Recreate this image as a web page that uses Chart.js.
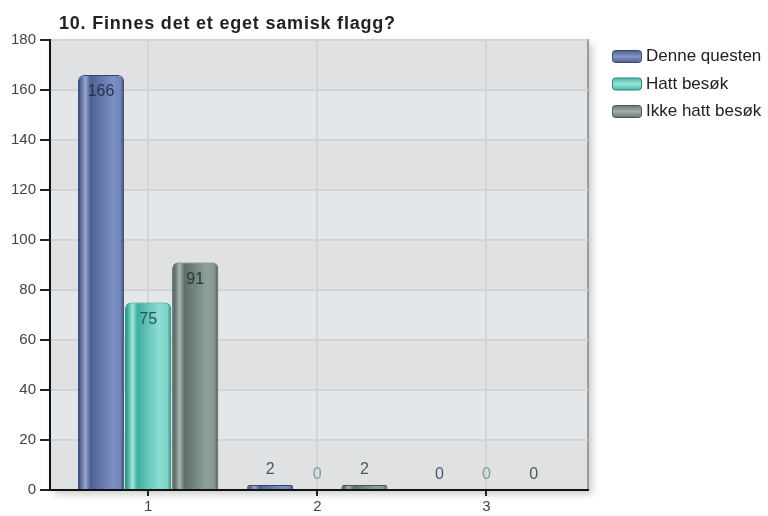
<!DOCTYPE html>
<html>
<head>
<meta charset="utf-8">
<script src="https://cdn.jsdelivr.net/npm/chart.js@4.4.1/dist/chart.umd.min.js"></script>
<style>
  html, body { margin: 0; padding: 0; background: #fff; }
  canvas { display: block; }
</style>
</head>
<body>
<canvas id="chart" width="768" height="516"></canvas>
<script>
const TITLE = '10. Finnes det et eget samisk flagg?';
const CATEGORIES = ['1', '2', '3'];
const SERIES_NAMES = ['Denne questen', 'Hatt besøk', 'Ikke hatt besøk'];
const DENNE_QUESTEN = [166, 2, 0];
const HATT_BESOK = [75, 0, 0];
const IKKE_HATT_BESOK = [91, 2, 0];
const Y_MIN = 0;
const Y_MAX = 180;
const Y_STEP = 20;

const FONT = '"Liberation Sans", Arial, Helvetica, sans-serif';

// cylinder look: dark edge, light stripe near the left, brighter towards the right
const STYLES = [
  {
    border: '#34466f',
    stops: ['#34466f', '#56689a', '#9ba6c8', '#4e6196', '#7c8fc2', '#7184b8', '#34466f'],
    swatch: ['#4a5c8f', '#8494c2', '#4a5c8f'],
    labelIn: '#27324c', labelOut: '#4b5573',
  },
  {
    border: '#23897c',
    stops: ['#23897c', '#3cae9f', '#a3e7dc', '#3eb0a1', '#8fded3', '#7dd2c6', '#23897c'],
    swatch: ['#3fb3a4', '#9de3d8', '#3fb3a4'],
    labelIn: '#2a5550', labelOut: '#7fa19c',
  },
  {
    border: '#475955',
    stops: ['#475955', '#61736f', '#a9b5b2', '#5c6e6a', '#8fa19d', '#84958f', '#475955'],
    swatch: ['#5f716d', '#a2b0ad', '#5f716d'],
    labelIn: '#2e3836', labelOut: '#4f5b58',
  },
];
const STOP_POS = [0, 0.06, 0.16, 0.27, 0.75, 0.92, 1];

const seriesValues = [DENNE_QUESTEN, HATT_BESOK, IKKE_HATT_BESOK];

const datasets = seriesValues.map((vals, i) => ({
  label: SERIES_NAMES[i],
  data: vals.map((v, j) => ({ x: Number(CATEGORIES[j]), y: v })),
  backgroundColor: STYLES[i].stops[4],
  borderColor: STYLES[i].border,
  borderWidth: 1,
  borderSkipped: 'bottom',
  borderRadius: { topLeft: 6, topRight: 6, bottomLeft: 0, bottomRight: 0 },
  categoryPercentage: 0.835,
  barPercentage: 0.98,
}));

// plot box: shadow, alternating bands, grey top/right frame
const plotBackground = {
  id: 'plotBackground',
  beforeDraw(chart) {
    const { ctx, chartArea: a, scales: { y } } = chart;
    ctx.save();
    ctx.shadowColor = 'rgba(0,0,0,0.22)';
    ctx.shadowBlur = 8;
    ctx.shadowOffsetX = 4;
    ctx.shadowOffsetY = 4;
    ctx.fillStyle = '#e2e3e5';
    ctx.fillRect(a.left, a.top, a.right - a.left, a.bottom - a.top);
    ctx.restore();

    ctx.save();
    for (let v = Y_MIN, k = 0; v < Y_MAX; v += Y_STEP, k++) {
      const y0 = y.getPixelForValue(v);
      const y1 = y.getPixelForValue(v + Y_STEP);
      ctx.fillStyle = k % 2 === 0 ? '#e0e1e3' : '#e4e7ea';
      ctx.fillRect(a.left, y1, a.right - a.left, y0 - y1);
    }
    ctx.strokeStyle = '#9a9a9a';
    ctx.lineWidth = 2;
    ctx.beginPath();
    ctx.moveTo(a.left, a.top);
    ctx.lineTo(a.right, a.top);
    ctx.lineTo(a.right, a.bottom);
    ctx.stroke();
    ctx.restore();
  },
};

// swap each bar's flat fill for a horizontal gradient over its own width
const barGradients = {
  id: 'barGradients',
  beforeDatasetsDraw(chart) {
    const { ctx } = chart;
    chart.data.datasets.forEach((ds, i) => {
      const meta = chart.getDatasetMeta(i);
      meta.data.forEach(bar => {
        const left = bar.x - bar.width / 2;
        const g = ctx.createLinearGradient(left, 0, left + bar.width, 0);
        STYLES[i].stops.forEach((c, k) => g.addColorStop(STOP_POS[k], c));
        bar.options = Object.assign({}, bar.options, { backgroundColor: g });
      });
    });
  },
};

// value labels: inside the top of tall bars, above short ones
const barLabels = {
  id: 'barLabels',
  afterDatasetsDraw(chart) {
    const { ctx } = chart;
    ctx.save();
    ctx.font = '16px ' + FONT;
    ctx.textAlign = 'center';
    ctx.textBaseline = 'middle';
    chart.data.datasets.forEach((ds, i) => {
      const meta = chart.getDatasetMeta(i);
      meta.data.forEach((bar, j) => {
        const v = seriesValues[i][j];
        const h = bar.base - bar.y;
        if (h > 30) {
          ctx.fillStyle = STYLES[i].labelIn;
          ctx.fillText(String(v), bar.x, bar.y + 17);
        } else {
          ctx.fillStyle = STYLES[i].labelOut;
          ctx.fillText(String(v), bar.x, bar.y - 15);
        }
      });
    });
    ctx.restore();
  },
};

// title and legend at their places in the picture
const titleLegend = {
  id: 'titleLegend',
  afterDraw(chart) {
    const { ctx } = chart;
    ctx.save();
    ctx.fillStyle = '#222';
    ctx.font = 'bold 18px ' + FONT;
    ctx.textBaseline = 'alphabetic';
    ctx.textAlign = 'left';
    ctx.letterSpacing = '0.8px';
    ctx.fillText(TITLE, 59, 28.5);
    ctx.letterSpacing = '0px';

    ctx.font = '17px ' + FONT;
    ctx.textBaseline = 'middle';
    SERIES_NAMES.forEach((name, i) => {
      const y = 50 + i * 27.5;
      const g = ctx.createLinearGradient(0, y, 0, y + 13);
      g.addColorStop(0, STYLES[i].swatch[0]);
      g.addColorStop(0.5, STYLES[i].swatch[1]);
      g.addColorStop(1, STYLES[i].swatch[2]);
      ctx.beginPath();
      ctx.roundRect(612.5, y + 0.5, 29, 12, 3);
      ctx.fillStyle = g;
      ctx.fill();
      ctx.strokeStyle = STYLES[i].border;
      ctx.lineWidth = 1;
      ctx.stroke();
      ctx.fillStyle = '#222';
      ctx.fillText(name, 646, y + 6.5);
    });
    ctx.restore();
  },
};

new Chart(document.getElementById('chart'), {
  type: 'bar',
  data: { datasets },
  options: {
    responsive: false,
    animation: false,
    devicePixelRatio: 1,
    layout: { padding: { left: 0, right: 180, top: 40, bottom: 0 } },
    plugins: {
      legend: { display: false },
      title: { display: false },
      tooltip: { enabled: false },
    },
    scales: {
      x: {
        type: 'linear',
        offset: false,
        min: 0.42,
        max: 3.6,
        afterBuildTicks: scale => {
          scale.ticks = CATEGORIES.map(c => ({ value: Number(c) }));
        },
        afterFit: scale => { scale.height = 26; },
        ticks: {
          color: '#444',
          font: { size: 15, family: FONT },
          padding: 2,
          callback: v => String(v),
        },
        grid: { offset: false, color: '#d4d5d7', lineWidth: 2, tickColor: '#222', tickWidth: 2, tickLength: 6 },
        border: { color: '#111', width: 2 },
      },
      y: {
        min: Y_MIN,
        max: Y_MAX,
        afterFit: scale => { scale.width = 50; },
        ticks: {
          stepSize: Y_STEP,
          color: '#444',
          font: { size: 15, family: FONT },
          padding: 4,
        },
        grid: { color: '#d2d3d5', lineWidth: 2, tickColor: '#222', tickWidth: 2, tickLength: 10 },
        border: { color: '#111', width: 2 },
      },
    },
  },
  plugins: [plotBackground, barGradients, barLabels, titleLegend],
});
</script>
</body>
</html>
